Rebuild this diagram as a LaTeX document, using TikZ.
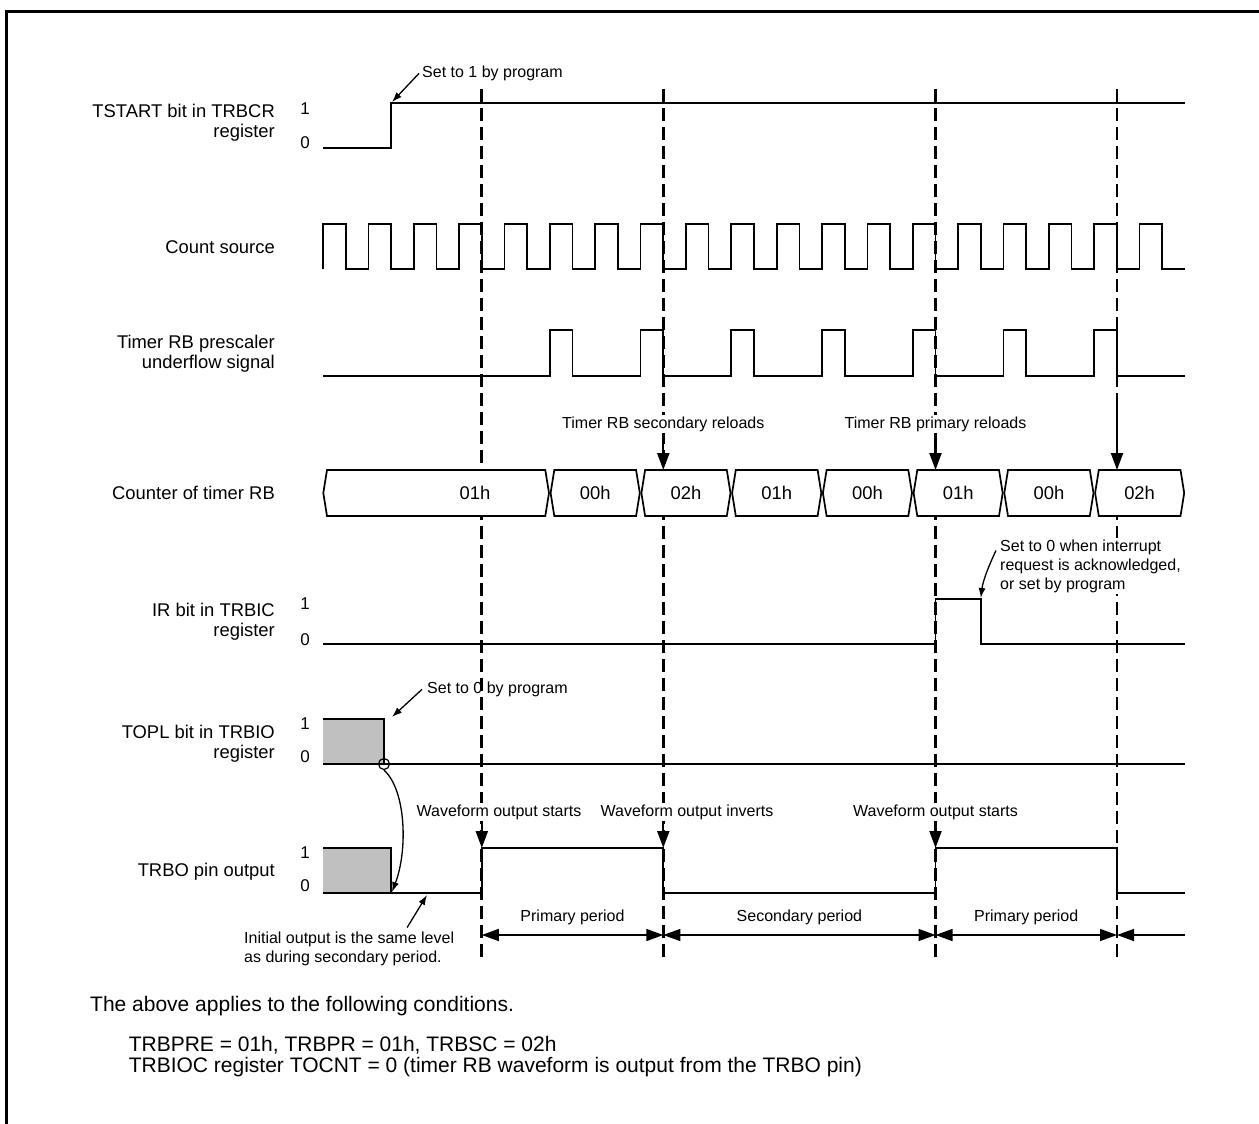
\documentclass[tikz,border=0pt]{standalone}
\usepackage{fontspec}
\setmainfont{Liberation Sans}
\usetikzlibrary{arrows.meta}
\definecolor{boxgray}{RGB}{192,192,192}
\begin{document}
\begin{tikzpicture}[x=1pt,y=-1pt,
  wave/.style={line width=1.7pt},
  guide/.style={line width=2.6pt,dash pattern=on 13pt off 6pt},
  drop/.style={line width=2.2pt,-{Triangle[length=17pt,width=12pt]}},
  period/.style={line width=1.5pt,{Triangle[length=17pt,width=12pt]}-{Triangle[length=17pt,width=12pt]}},
  hint/.style={line width=1.3pt,-{Latex[length=10pt,width=7pt]}},
  signame/.style={font=\fontsize{18.4}{20}\selectfont,align=right,anchor=east,inner sep=0pt},
  lvl/.style={font=\fontsize{17}{20}\selectfont,inner sep=0pt},
  cval/.style={font=\fontsize{18.4}{20}\selectfont,inner sep=0pt},
  small/.style={font=\fontsize{16}{19}\selectfont,align=left,inner sep=0pt},
  masked/.style={small,fill=white,inner sep=1.5pt},
  foot/.style={font=\fontsize{21}{20.5}\selectfont,align=left,inner sep=0pt}]
\useasboundingbox (0,0) rectangle (1259,1124);
\draw[line width=3pt] (6,1124) -- (6,12) -- (1259,12);

\node (tstart) [signame] at (275,123) {TSTART bit in TRBCR\\register};
\node (cnt) [signame] at (275,247.5) {Count source};
\node (pre) [signame] at (275,353.3) {Timer RB prescaler\\underflow signal};
\node (ctr) [signame] at (275,492.5) {Counter of timer RB};
\node (ir) [signame] at (275,622.2) {IR bit in TRBIC\\register};
\node (topl) [signame] at (275,743.3) {TOPL bit in TRBIO\\register};
\node (trbo) [signame] at (275,872) {TRBO pin output};

\node (ts1) [lvl] at (305,109) {1};
\node (ts0) [lvl] at (305,142.5) {0};
\node (ir1) [lvl] at (305,604) {1};
\node (ir0) [lvl] at (305,640) {0};
\node (tp1) [lvl] at (305,724) {1};
\node (tp0) [lvl] at (305,757) {0};
\node (to1) [lvl] at (305,853) {1};
\node (to0) [lvl] at (305,886) {0};

\foreach \k in {7,15,27,35}
  \draw[guide] (323+\k*22.684,89) -- (323+\k*22.684,957);

\draw[wave] (323,148) -- (391.1,148) -- (391.1,103) -- (1185,103);
\draw[wave] (323,269) \foreach \k in {0,...,18} { -- ++(0,-45) -- ++(22.684,0) -- ++(0,45) -- ++(22.684,0) };
\draw[wave] (323,376) \foreach \k in {10,14,...,34} { -- (323+\k*22.684,376) -- ++(0,-46) -- ++(22.684,0) -- ++(0,46) } -- (1185,376);

\foreach \xl/\xr/\xm/\cv [count=\i] in {322.5/549.8/475/01h, 549.8/640.6/595.2/00h, 640.6/731.3/686/02h, 731.3/822.1/776.7/01h, 822.1/912.8/867.4/00h, 912.8/1003.5/958.2/01h, 1003.5/1094.3/1048.9/00h, 1094.3/1185/1139.6/02h}
{
  \filldraw[wave, fill=white] (\xl+0.8,493) -- (\xl+4.5,470) -- (\xr-4.5,470) -- (\xr-0.8,493) -- (\xr-4.5,516) -- (\xl+4.5,516) -- cycle;
  \node (c\i) [cval] at (\xm,493) {\cv};
}

\node (secrel) [masked, anchor=base] at (663.3,428.5) {Timer RB secondary reloads};
\node (prirel) [masked, anchor=base] at (935.5,428.5) {Timer RB primary reloads};
\coordinate (r15) at (663.3,470);
\coordinate (r27) at (935.5,470);
\coordinate (r35) at (1117,470);
\coordinate (r35a) at (1117,395);
\draw[drop] ([yshift=-2pt]secrel.south) -- (r15);
\draw[drop] ([yshift=-2pt]prirel.south) -- (r27);
\draw[drop] (r35a) -- (r35);

\node (set1) [small, anchor=base west] at (422,77.5) {Set to 1 by program};
\coordinate (rise) at (392,102);
\draw[hint] ([xshift=-3pt]set1.west) -- (rise);

\draw[wave] (323,644) -- (935.5,644) -- (935.5,599) -- (980.8,599) -- (980.8,644) -- (1185,644);
\node (irnote) [masked, anchor=north west] at (998.5,538) {Set to 0 when interrupt\\request is acknowledged,\\or set by program};
\coordinate (irfall) at (980.8,598);
\draw[hint] ([xshift=-2.5pt,yshift=-12.5pt]irnote.north west) .. controls (990,563) and (983,580) .. (irfall);

\fill[boxgray] (323,719) rectangle (384,764);
\draw[wave] (323,719) -- (384,719) -- (384,764);
\draw[wave] (323,764) -- (1185,764);
\node (sw) [circle, draw, line width=1.2pt, minimum size=11pt, inner sep=0pt] at (384,764) {};
\node (set0) [small, anchor=base west] at (427,693.5) {Set to 0 by program};
\coordinate (toplhi) at (392,717);
\draw[hint] ([xshift=-5pt]set0.west) -- (toplhi);

\fill[boxgray] (323,848) rectangle (391,893);
\draw[wave] (323,848) -- (391,848) -- (391,893);
\draw[wave] (323,893) -- (481.8,893) -- (481.8,848) -- (663.3,848) -- (663.3,893) -- (935.5,893) -- (935.5,848) -- (1117,848) -- (1117,893) -- (1185,893);
\coordinate (trbolo) at (392,892);
\draw[hint] (sw.south) .. controls (406,790) and (408,850) .. (trbolo);

\node (wos1) [masked, anchor=base] at (499,816.5) {Waveform output starts};
\node (woi) [masked, anchor=base] at (687,816.5) {Waveform output inverts};
\node (wos2) [masked, anchor=base] at (935.5,816.5) {Waveform output starts};
\coordinate (e1) at (481.8,848);
\coordinate (e2) at (663.3,848);
\coordinate (e3) at (935.5,848);
\draw[drop] (wos1.south -| e1) -- (e1);
\draw[drop] (woi.south -| e2) -- (e2);
\draw[drop] (wos2.south -| e3) -- (e3);

\node (init) [small, anchor=north west] at (244,931.5) {Initial output is the same level\\as during secondary period.};
\coordinate (initlo) at (427,895);
\draw[hint] ([xshift=58pt,yshift=4pt]init.north) -- (initlo);

\coordinate (p0) at (481.8,935);
\coordinate (p1) at (663.3,935);
\coordinate (p2) at (935.5,935);
\coordinate (p3) at (1117,935);
\coordinate (p4) at (1185,935);
\draw[period] (p0) -- (p1);
\draw[period] (p1) -- (p2);
\draw[period] (p2) -- (p3);
\draw[line width=1.5pt,{Triangle[length=17pt,width=12pt]}-] (p3) -- (p4);
\node (pp1) [small, anchor=base] at (572.5,921) {Primary period};
\node (sp) [small, anchor=base] at (799.4,921) {Secondary period};
\node (pp2) [small, anchor=base] at (1026.2,921) {Primary period};

\node (cond) [foot, anchor=base west] at (90,1011) {The above applies to the following conditions.};
\node (regs) [foot, anchor=north west] at (128.6,1036.5) {TRBPRE = 01h, TRBPR = 01h, TRBSC = 02h\\TRBIOC register TOCNT = 0 (timer RB waveform is output from the TRBO pin)};
\end{tikzpicture}
\end{document}
